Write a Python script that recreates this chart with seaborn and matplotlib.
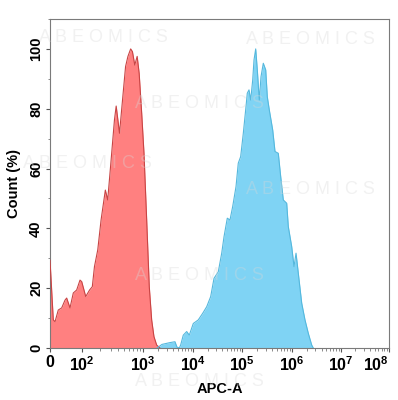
import numpy as np
import pandas as pd
import matplotlib
matplotlib.use("Agg")
import matplotlib.pyplot as plt
import seaborn as sns
from matplotlib.ticker import FixedLocator, FixedFormatter

# ---- data (APC-A intensity, Count %) ----
red_x = [0, 2.8, 4.6, 8.6, 14, 20.8, 24.9, 34.8, 47.3, 63.9, 84.7, 97.6,
         116, 135, 150, 163, 185, 210, 247, 270, 307, 348, 371, 420, 475,
         526, 574, 635, 678, 739, 807, 869, 953, 1047, 1186, 1337, 1493,
         1660, 1879, 2188]
red_y = [29.4, 9.4, 8.8, 12.7, 13.4, 16, 16.7, 13.4, 18.4, 19.4, 22.7, 22.2,
         17.2, 19.4, 20.5, 27.2, 32.8, 42.8, 52.8, 49.5, 62.9, 76.3, 80.9,
         71.8, 84, 94.1, 97.5, 100, 99.1, 94.6, 97.5, 91.8, 78.5, 65.1, 42.8,
         20.5, 9.4, 3.8, 1, 0]

blue_x = [1905, 2399, 3467, 4365, 4786, 5321, 5675, 6397, 7482, 8433, 10140,
          12820, 15770, 19050, 22970, 26850, 32840, 38550, 42950, 50120,
          56890, 64570, 75510, 83950, 93980, 106200, 120200, 127600, 138000,
          149300, 163700, 173800, 187900, 202300, 221800, 239900, 266700,
          297900, 320600, 351600, 411100, 457100, 532100, 594300, 669900,
          783400, 843300, 986300, 1099000, 1208000, 1345000, 1578000,
          1841000, 2153000, 2523000, 2723000]
blue_y = [0, 1.2, 1.8, 2.1, 0.3, 0, 1, 4.3, 5.5, 4.3, 8.2, 9.4, 11.6, 13.8,
          17.2, 23.3, 25.5, 31.7, 37.2, 43.4, 42.8, 47.3, 54, 61.8, 64, 71.8,
          80.7, 85.2, 86.3, 82.9, 89.6, 96.3, 100, 93, 82.9, 90.7, 95.2, 93,
          84, 79.6, 72.9, 65.7, 65.1, 57.3, 49.5, 48.4, 40.6, 33.9, 27.2,
          31.7, 25, 15, 9.4, 4.9, 1, 0]

tick_vals = [0, 1e2, 1e3, 1e4, 1e5, 1e6, 1e7, 1e8]
tick_labels = ["0", r"$\mathbf{10^{2}}$", r"$\mathbf{10^{3}}$", r"$\mathbf{10^{4}}$",
               r"$\mathbf{10^{5}}$", r"$\mathbf{10^{6}}$", r"$\mathbf{10^{7}}$",
               r"$\mathbf{10^{8}}$"]
y_ticks = [0, 20, 40, 60, 80, 100]

# ---- display scale (biexponential-like axis) ----
anchor_pos = np.array([0, 32, 93, 143, 192, 242, 291, 339], dtype=float)

def _g(x):
    x = np.asarray(x, dtype=float)
    return np.sign(x) * np.log10(1 + np.abs(x) / 10.0)

_ga = _g(tick_vals)

def fwd(x):
    return np.interp(_g(x), _ga, anchor_pos)

def inv(p):
    gi = np.interp(np.asarray(p, dtype=float), anchor_pos, _ga)
    return np.sign(gi) * 10.0 * (10 ** np.abs(gi) - 1)

sns.set_theme(style="white")
plt.rcParams['font.family'] = ['Liberation Sans', 'DejaVu Sans']
plt.rcParams['mathtext.fontset'] = 'custom'
plt.rcParams['mathtext.bf'] = 'Liberation Sans:bold'
plt.rcParams['mathtext.rm'] = 'Liberation Sans'

fig = plt.figure(figsize=(3.98, 4.0), dpi=100)
ax = fig.add_axes([50/398, 52/400, 339/398, 329/400])

ax.set_xscale("function", functions=(fwd, inv))

red = pd.DataFrame({"x": red_x, "y": red_y})
blue = pd.DataFrame({"x": blue_x, "y": blue_y})

ax.fill_between(red["x"], red["y"], color="#ff8080", lw=0, zorder=2)
sns.lineplot(data=red, x="x", y="y", ax=ax, color="#c84444", lw=0.8,
             sort=False, zorder=3)
ax.fill_between(blue["x"], blue["y"], color="#7fd3f4", lw=0, zorder=2)
sns.lineplot(data=blue, x="x", y="y", ax=ax, color="#55b8dd", lw=0.8,
             sort=False, zorder=3)

# faint watermark on top
for (fx, fy) in [(0.26, 0.905), (0.78, 0.9), (0.5, 0.74), (0.22, 0.59),
                 (0.78, 0.525), (0.5, 0.31), (0.5, 0.045)]:
    fig.text(fx, fy, "A B E O M I C S", color="#d8d8d8", alpha=0.35,
             fontsize=13, ha="center", va="center", zorder=10)

ax.set_xlim(0, 1e8)
ax.set_ylim(0, 110)

ax.xaxis.set_major_locator(FixedLocator(tick_vals))
ax.xaxis.set_major_formatter(FixedFormatter(tick_labels))
minor = [k * 10 ** n for n in range(2, 8) for k in range(2, 10)]
ax.xaxis.set_minor_locator(FixedLocator(minor))
ax.yaxis.set_major_locator(FixedLocator(y_ticks))
ax.yaxis.set_minor_locator(FixedLocator([10, 30, 50, 70, 90, 110]))

ax.tick_params(axis="both", which="major", length=3, width=0.8,
               color="#555555", labelcolor="black", bottom=True, left=True,
               pad=2)
ax.tick_params(axis="x", which="major", labelsize=11.5)
ax.tick_params(axis="y", which="major", labelsize=10.5)
ax.tick_params(axis="both", which="minor", length=1.8, width=0.6,
               color="#777777", bottom=True, left=True)
xlabs = ax.get_xticklabels()
for lab in xlabs:
    lab.set_fontweight("bold")
xlabs[-1].set_horizontalalignment("right")
for lab in ax.get_yticklabels():
    lab.set_fontweight("bold")
    lab.set_rotation(90)
    lab.set_va("center")

for s in ax.spines.values():
    s.set_color("#7a7a7a")
    s.set_linewidth(0.8)

ax.set_xlabel("APC-A", fontsize=10.5, fontweight="bold", color="black",
              labelpad=6)
ax.set_ylabel("Count (%)", fontsize=10.5, fontweight="bold", color="black",
              labelpad=6)

fig.savefig("out.png", dpi=100)
